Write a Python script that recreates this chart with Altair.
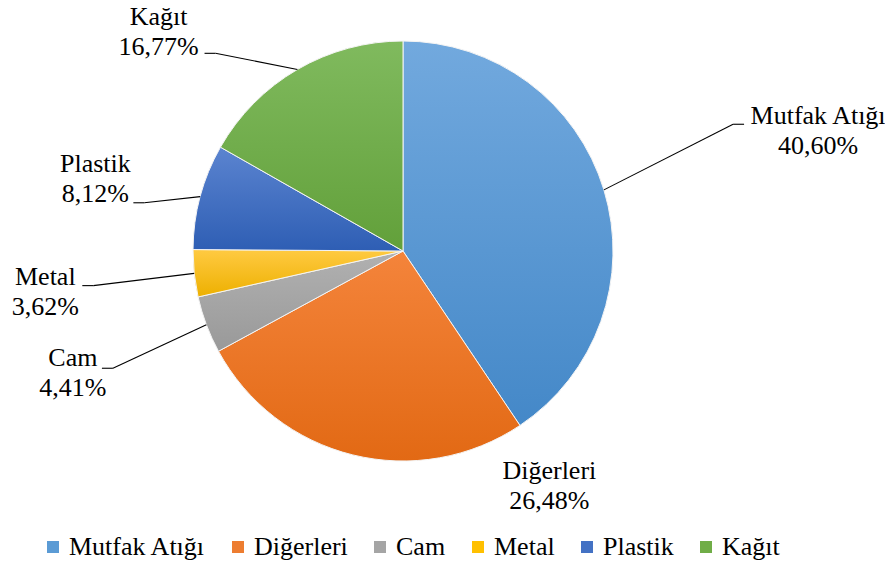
import math
import altair as alt
import pandas as pd

# ---- data -------------------------------------------------------------
categories = ["Mutfak Atığı", "Diğerleri", "Cam", "Metal", "Plastik", "Kağıt"]
shares = [40.60, 26.48, 4.41, 3.62, 8.12, 16.77]

# ---- style ------------------------------------------------------------
colors_solid = ["#5B9BD5", "#ED7D31", "#A5A5A5", "#FFC000", "#4472C4", "#70AD47"]
grad_top = ["#72A9DE", "#F4843B", "#B1B1B1", "#FFCA42", "#5B84D0", "#80BA5E"]
grad_bottom = ["#4488C8", "#E26914", "#999999", "#EDB000", "#2E5EB4", "#62A03A"]
FONT = "Liberation Serif, Times New Roman, serif"
FS = 26

# ---- layout (pixels, chart coordinates) ------------------------------
CX, CY, R = 395, 243, 210
W, H = 877, 552
label_radius = [432, 277, 352, 360, 316, 328]
label_shift = [0.23, -12.7, 0.07, -0.1, -0.5, -5.0]   # in percent of the circle
leader_dx = [-74, None, 29, 37, 38, 46]               # leader end vs label centre
leader_dy = [-7, None, -5, -6, 24, 21]
TICK = 11

df = pd.DataFrame({
    "category": categories,
    "share": shares,
    "order": list(range(len(categories))),
    "label_r": label_radius,
    "label_shift": label_shift,
    "leader_dx": leader_dx,
    "leader_dy": leader_dy,
})

theta_scale = alt.Scale(domain=[0, 100], range=[0, 2 * math.pi])

base = alt.Chart()

solid = base.mark_arc(radius=R, stroke="white", strokeWidth=1).encode(
    theta=alt.Theta("start:Q", scale=theta_scale),
    theta2="cum:Q",
    x=alt.value(CX),
    y=alt.value(CY),
    color=alt.Color(
        "category:N",
        scale=alt.Scale(domain=categories, range=colors_solid),
        legend=alt.Legend(
            orient="none", legendX=32, legendY=526, direction="horizontal",
            columns=6, title=None, symbolType="square", symbolSize=144,
            symbolStrokeWidth=0, labelFont=FONT, labelFontSize=FS,
            labelColor="black", labelOffset=3, columnPadding=19, padding=0,
            labelLimit=400,
        ),
    ),
)

grad_layers = []
for cat, top, bot in zip(categories, grad_top, grad_bottom):
    g = alt.Gradient(
        gradient="linear",
        stops=[alt.GradientStop(color=top, offset=0), alt.GradientStop(color=bot, offset=1)],
        x1=0, x2=0, y1=0, y2=1,
    )
    grad_layers.append(
        base.mark_arc(radius=R, fill=g, stroke="#f4f4f4", strokeWidth=1)
        .encode(theta=alt.Theta("start:Q", scale=theta_scale), theta2="cum:Q",
                x=alt.value(CX), y=alt.value(CY))
        .transform_filter(alt.datum.category == cat)
    )

leader_a = base.mark_rule(color="black", strokeWidth=1.1).encode(
    x=alt.X("ex:Q", scale=None, axis=None),
    y=alt.Y("ey:Q", scale=None, axis=None),
    x2="elbx:Q",
    y2="endy:Q",
).transform_filter("isValid(datum.leader_dx)")

leader_b = base.mark_rule(color="black", strokeWidth=1.1).encode(
    x=alt.X("elbx:Q", scale=None, axis=None),
    y=alt.Y("endy:Q", scale=None, axis=None),
    x2="endx:Q",
    y2="endy:Q",
).transform_filter("isValid(datum.leader_dx)")

labels = base.mark_text(
    font=FONT, fontSize=FS, color="black", align="center", baseline="middle",
    lineBreak="\n", lineHeight=30, dy=-15,
).encode(
    x=alt.X("lx:Q", scale=None, axis=None),
    y=alt.Y("ly:Q", scale=None, axis=None),
    text="txt:N",
)

chart = alt.layer(
    solid, *grad_layers, leader_a, leader_b, labels, data=df
).transform_window(
    cum="sum(share)", sort=[alt.SortField("order")], frame=[None, 0]
).transform_calculate(
    start="datum.cum - datum.share",
    mid="datum.cum - datum.share / 2",
).transform_calculate(
    la="(datum.mid + datum.label_shift) / 100 * 2 * PI",
    ma="datum.mid / 100 * 2 * PI",
).transform_calculate(
    lx=f"{CX} + datum.label_r * sin(datum.la)",
    ly=f"{CY} - datum.label_r * cos(datum.la)",
    ex=f"{CX} + {R} * sin(datum.ma)",
    ey=f"{CY} - {R} * cos(datum.ma)",
    pct="replace(format(datum.share, '.2f'), '.', ',') + '%'",
).transform_calculate(
    endx="datum.lx + datum.leader_dx",
    endy="datum.ly + datum.leader_dy",
    txt="datum.category + '\\n' + datum.pct",
).transform_calculate(
    elbx=f"datum.endx + (datum.lx > {CX} ? -{TICK} : {TICK})",
).properties(
    width=W, height=H,
    autosize=alt.AutoSizeParams(type="none"),
    padding=0,
).configure(font=FONT).configure_legend(
    labelFont=FONT, labelFontSize=FS
).configure_view(stroke=None)

chart.save("out.html", embed_options={"renderer": "svg", "actions": False})
